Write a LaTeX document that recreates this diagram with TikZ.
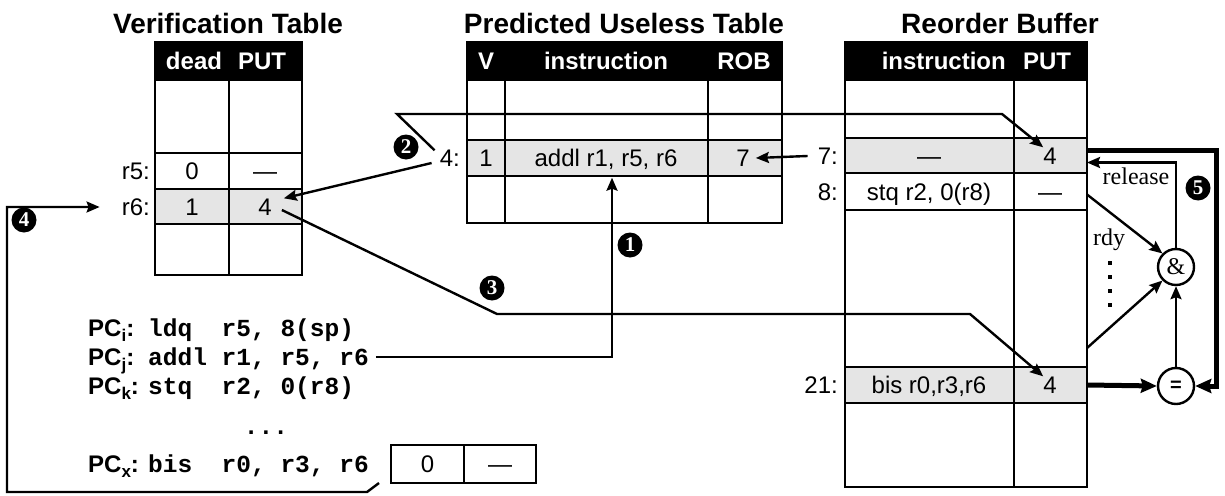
\documentclass[tikz,border=0pt]{standalone}
\usepackage{fontspec}
\setmainfont{Liberation Sans}
\newfontfamily\serifx{Liberation Serif}
\newfontfamily\monox{Liberation Mono}
\usetikzlibrary{arrows.meta,calc}
\begin{document}
\begin{tikzpicture}[x=1pt,y=-1pt,
  tbl/.style={line width=2.8pt},
  cell/.style={inner sep=0pt, text height=17pt, text depth=0pt, font=\fontsize{24}{28}\selectfont},
  hdr/.style={cell, text=white, font=\fontsize{24}{28}\selectfont\bfseries},
  lab/.style={cell, anchor=east},
  ttl/.style={inner sep=0pt, font=\fontsize{28}{32}\selectfont\bfseries},
  code/.style={inner sep=0pt, text height=17pt, text depth=0pt, anchor=west, font=\monox\bfseries\fontsize{24.5}{28}\selectfont},
  pclab/.style={inner sep=0pt, text height=17pt, text depth=0pt, anchor=west, font=\fontsize{24}{28}\selectfont\bfseries},
  num/.style={circle, fill=black, text=white, inner sep=0pt, minimum size=25pt, font=\serifx\bfseries\fontsize{21}{21}\selectfont},
  conn/.style={line width=2.4pt, -{Stealth[length=13pt,width=11pt,inset=2pt]}},
  thk/.style={line width=5pt, -{Stealth[length=16pt,width=14pt,inset=2pt]}},
  gate/.style={circle, draw, line width=2.4pt, minimum size=36pt, inner sep=0pt},
  rowbox/.style={draw, line width=2.8pt, inner sep=0pt, outer sep=0pt, anchor=north west},
  boxcell/.style={draw, line width=2.8pt, inner sep=0pt, outer sep=0pt, minimum height=38pt, text height=17pt, text depth=0pt, font=\fontsize{24}{28}\selectfont},
  ser/.style={inner sep=0pt, font=\serifx\fontsize{24}{28}\selectfont}
]
\useasboundingbox (0,0) rectangle (1225,495);

% titles
\node[ttl] (t1) at (228,23) {Verification Table};
\node[ttl] (t2) at (624,23) {Predicted Useless Table};
\node[ttl] (t3) at (1000,23) {Reorder Buffer};

% Verification table
\fill (155,42) rectangle (302,80);
\fill[gray!20] (155,189) rectangle (302,224);
\draw[tbl] (155,42) rectangle (302,275);
\draw[tbl] (155,80) -- (302,80) (155,153) -- (302,153) (155,189) -- (302,189) (155,224) -- (302,224) (229,80) -- (229,275);
\node[hdr] (vtdead) at (194,61) {dead};
\node[hdr] (vtput) at (262,61) {PUT};
\node[lab] (lr5) at (150,171) {r5:};
\node[cell] (vt0) at (192,171) {0};
\node[cell] (vtd) at (265,171) {—};
\node[lab] (lr6) at (150,207) {r6:};
\node[cell] (vt1) at (192,207) {1};
\node[cell] (vt4) at (265,207) {4};

% Predicted useless table
\fill (467,42) rectangle (782,80);
\fill[gray!20] (467,140) rectangle (782,176);
\draw[tbl] (467,42) rectangle (782,223);
\draw[tbl] (467,80) -- (782,80) (467,140) -- (782,140) (467,176) -- (782,176) (505,80) -- (505,223) (708,80) -- (708,223);
\node[hdr] (putv) at (486,61) {V};
\node[hdr] (putinh) at (606,61) {instruction};
\node[hdr] (putrob) at (744,61) {ROB};
\node[lab] (l4) at (460,158) {4:};
\node[cell] (put1) at (486,158) {1};
\node[cell] (putins) at (606,158) {addl r1, r5, r6};
\node[cell] (put7) at (743,158) {7};

% Reorder buffer
\fill (845,42) rectangle (1087,80);
\node[rowbox, fill=gray!20, minimum width=242pt, minimum height=35pt] (r7) at (845,138) {};
\node[rowbox, minimum width=242pt, minimum height=37pt] (r8) at (845,173) {};
\node[rowbox, fill=gray!20, minimum width=242pt, minimum height=36pt] (r21) at (845,367) {};
\draw[tbl] (845,42) rectangle (1087,487);
\draw[tbl] (845,80) -- (1087,80) (1014,80) -- (1014,487);
\node[hdr, anchor=east] (robins) at (1006,61) {instruction};
\node[hdr] (robput) at (1047,61) {PUT};
\node[lab] (l7) at (838,156) {7:};
\node[cell] (rob7i) at (929,156) {—};
\node[cell] (rob7p) at (1050,156) {4};
\node[lab] (l8) at (838,192) {8:};
\node[cell] (rob8i) at (929,192) {stq r2, 0(r8)};
\node[cell] (rob8p) at (1050,192) {—};
\node[lab] (l21) at (838,385) {21:};
\node[cell] (rob21i) at (929,385) {bis r0,r3,r6};
\node[cell] (rob21p) at (1050,385) {4};

% code
\node[pclab] (pci) at (88,328) {PC\raisebox{-5pt}{\fontsize{17}{17}\selectfont i}:};
\node[code] (ci) at (148,328) {ldq~~r5, 8(sp)};
\node[pclab] (pcj) at (88,357) {PC\raisebox{-5pt}{\fontsize{17}{17}\selectfont j}:};
\node[code] (cj) at (148,357) {addl r1, r5, r6};
\node[pclab] (pck) at (88,386) {PC\raisebox{-5pt}{\fontsize{17}{17}\selectfont k}:};
\node[code] (ck) at (148,386) {stq~~r2, 0(r8)};
\node[code, anchor=center] (cdots) at (266,426) {...};
\node[pclab] (pcx) at (88,464) {PC\raisebox{-5pt}{\fontsize{17}{17}\selectfont x}:};
\node[code] (cx) at (148,464) {bis~~r0, r3, r6};
\node[boxcell, minimum width=73pt] (bx0) at (427.5,464) {0};
\node[boxcell, minimum width=72pt] (bxd) at (500,464) {—};

% connectors
\draw[conn] ([xshift=7pt]cj.east) -| ($(putins.south)+(6,11)$);
\draw[conn] ($(l4.north west)+(-5,1)$) -- (397,114) -- (1002,114) -- (rob7p.north west);
\draw[conn] ($(l4.west)+(-8,5)$) -- ($(vt4.north east)+(12,0)$);
\draw[conn] ($(vt4.east)+(10,3)$) -- (497,314) -- (970,314) -- (rob21p.north west);
\draw[conn] ($(bx0.south west)+(-12,0)$) -- (367,492) -- (7,492) -- (7,207) -- ($(lr6.west)+(-22,0)$);
\draw[conn] ($(l7.west)+(-10,0)$) -- ($(put7.east)+(6,0)$);

% logic
\node[gate, font=\serifx\fontsize{24}{28}\selectfont] (and) at (1176,267) {\&};
\node[gate, font=\bfseries\fontsize{20}{24}\selectfont] (eq) at (1176,386) {=};
\draw[conn] (eq.north) -- (and.south);
\draw[conn] (and.north) |- ($(r7.east)+(0,7)$);
\draw[conn] ($(r8.east)+(0,3)$) -- (and.north west);
\draw[conn] ($(r21.north east)+(0,-19)$) -- (and.south west);
\draw[thk] ($(r7.east)+(0,-5)$) -| ($(eq.east)+(21,0)$) -- (eq.east);
\draw[thk] (r21.east) -- (eq.west);
\node[ser] (rel) at (1136,176) {release};
\node[ser] (rdy) at (1109,240) {rdy};
\draw[line width=3.5pt, dash pattern=on 3.5pt off 10.5pt] (1110,261) -- (1110,310);

% step numbers
\node[num] (n1) at (630,245) {1};
\node[num] (n2) at (406,147) {2};
\node[num] (n3) at (492,288) {3};
\node[num] (n4) at (24,220) {4};
\node[num] (n5) at (1198,188) {5};
\end{tikzpicture}
\end{document}
